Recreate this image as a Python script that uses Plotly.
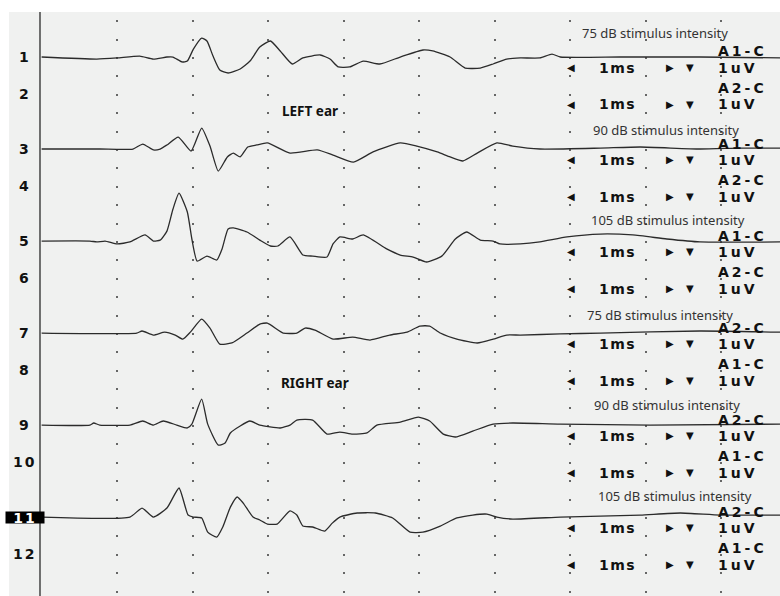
import plotly.graph_objects as go

# ---------------- data (time in ms, amplitude in uV) ----------------
t1 = [0.00, 0.73, 1.00, 1.30, 1.48, 1.66, 1.74, 1.86, 1.93, 2.01, 2.12, 2.19, 2.27, 2.36, 2.47, 2.63, 2.76, 2.89, 3.03, 3.16, 3.32, 3.46, 3.69, 3.82, 3.93, 4.08, 4.26, 4.48, 4.75, 5.05, 5.18, 5.41, 5.61, 5.81, 5.98, 6.16, 6.34, 6.60, 6.76, 6.87, 7.66, 8.72, 9.78]
a1 = [0.00, -0.11, -0.05, 0.05, -0.11, 0.00, 0.00, -0.27, -0.22, 0.43, 1.03, 0.87, 0.05, -0.71, -0.87, -0.65, -0.22, 0.54, 0.87, 0.33, -0.38, -0.05, 0.11, -0.11, -0.54, -0.54, -0.22, -0.38, 0.00, 0.38, 0.33, 0.00, -0.60, -0.60, -0.38, -0.11, -0.05, -0.05, 0.16, 0.00, 0.00, 0.00, -0.05]

t3 = [0.00, 0.77, 1.21, 1.34, 1.48, 1.57, 1.66, 1.81, 1.98, 2.12, 2.23, 2.34, 2.46, 2.54, 2.63, 2.73, 2.85, 2.99, 3.29, 3.65, 3.86, 4.13, 4.39, 4.75, 4.97, 5.24, 5.41, 5.58, 5.77, 6.03, 6.24, 6.60, 7.40, 7.93, 8.72, 9.25, 9.78]
a3 = [0.00, 0.00, 0.00, 0.27, -0.05, 0.00, 0.22, 0.65, -0.11, 1.14, 0.16, -1.20, -0.43, -0.22, -0.43, 0.11, 0.22, 0.33, -0.22, -0.05, -0.33, -0.71, -0.16, 0.33, 0.16, -0.16, -0.43, -0.65, -0.22, 0.33, 0.16, 0.00, 0.05, 0.11, 0.00, 0.05, 0.05]

t5 = [0.00, 0.64, 0.73, 0.84, 1.00, 1.17, 1.37, 1.48, 1.57, 1.66, 1.74, 1.82, 1.93, 1.99, 2.06, 2.19, 2.32, 2.39, 2.47, 2.54, 2.72, 2.89, 3.03, 3.13, 3.29, 3.46, 3.59, 3.78, 3.86, 3.95, 4.12, 4.26, 4.57, 4.75, 4.92, 5.10, 5.30, 5.48, 5.63, 5.81, 5.98, 6.07, 6.34, 6.60, 6.96, 7.40, 7.83, 8.28, 8.72, 9.78]
a5 = [0.00, 0.00, -0.05, 0.00, -0.16, -0.05, 0.33, 0.00, 0.05, 0.54, 1.74, 2.60, 1.58, 0.11, -1.09, -0.82, -1.03, -0.43, 0.65, 0.71, 0.49, 0.05, -0.27, -0.27, 0.22, -0.76, -0.82, -0.87, -0.16, 0.22, 0.11, 0.33, -0.43, -0.76, -0.87, -1.14, -0.82, 0.11, 0.49, 0.05, 0.00, -0.16, -0.16, -0.05, 0.22, 0.38, 0.33, 0.11, -0.05, -0.05]

t7 = [0.00, 1.26, 1.33, 1.48, 1.63, 1.77, 1.87, 1.97, 2.12, 2.23, 2.36, 2.52, 2.72, 2.89, 2.99, 3.20, 3.38, 3.49, 3.62, 3.86, 4.12, 4.35, 4.61, 4.84, 5.01, 5.14, 5.28, 5.50, 5.77, 5.98, 6.16, 6.34, 6.87, 7.40, 8.72, 9.78]
a7 = [0.00, 0.00, 0.11, -0.11, 0.05, -0.11, -0.33, 0.05, 0.76, 0.27, -0.60, -0.54, 0.00, 0.49, 0.54, 0.00, 0.00, 0.27, 0.16, -0.33, -0.22, -0.38, -0.11, 0.05, 0.38, 0.38, 0.00, -0.33, -0.54, -0.33, -0.11, -0.11, -0.05, 0.00, 0.11, 0.05]

t9 = [0.00, 0.64, 0.69, 0.77, 1.17, 1.34, 1.48, 1.61, 1.79, 1.93, 1.99, 2.12, 2.20, 2.34, 2.43, 2.50, 2.63, 2.76, 2.89, 3.16, 3.29, 3.38, 3.59, 3.78, 3.95, 4.12, 4.31, 4.44, 4.75, 4.99, 5.14, 5.32, 5.48, 5.71, 5.98, 6.24, 6.87, 8.06, 9.78]
a9 = [0.00, 0.00, 0.11, 0.00, 0.00, 0.22, 0.00, 0.22, 0.00, -0.16, 0.05, 1.41, 0.05, -1.09, -0.98, -0.43, -0.05, 0.22, 0.00, -0.16, 0.00, 0.27, 0.27, -0.49, -0.38, -0.49, -0.43, 0.00, 0.16, 0.43, 0.22, -0.49, -0.65, -0.33, 0.05, 0.11, 0.05, 0.00, 0.05]

t11 = [0.00, 1.17, 1.33, 1.48, 1.66, 1.82, 1.94, 2.01, 2.12, 2.20, 2.32, 2.40, 2.50, 2.59, 2.67, 2.80, 2.89, 2.99, 3.12, 3.29, 3.38, 3.46, 3.59, 3.75, 3.85, 3.95, 4.18, 4.42, 4.65, 4.88, 5.05, 5.28, 5.50, 5.71, 5.90, 6.03, 6.24, 6.87, 7.40, 7.93, 8.46, 8.99, 9.78]
a11 = [0.00, 0.00, 0.49, 0.00, 0.49, 1.58, 0.11, 0.00, -0.05, -0.82, -1.09, -0.54, 0.54, 1.09, 0.76, 0.00, -0.16, -0.38, -0.38, 0.33, 0.11, -0.49, -0.54, -0.76, -0.33, 0.00, 0.22, 0.22, -0.05, -0.82, -0.82, -0.49, -0.05, 0.11, 0.16, 0.00, -0.11, 0.00, 0.05, 0.11, 0.22, 0.11, 0.11]

channel_numbers = ["1", "2", "3", "4", "5", "6", "7", "8", "9", "10", "11", "12"]
electrodes = ["A1-C", "A2-C", "A1-C", "A2-C", "A1-C", "A2-C",
              "A2-C", "A1-C", "A2-C", "A1-C", "A2-C", "A1-C"]
stimulus_labels = ["75 dB stimulus intensity", "90 dB stimulus intensity", "105 dB stimulus intensity",
                   "75 dB stimulus intensity", "90 dB stimulus intensity", "105 dB stimulus intensity"]
ear_labels = ["LEFT ear", "RIGHT ear"]
time_scale = "1ms"
amp_scale = "1uV"
grid_ms = [1, 2, 3, 4, 5, 6, 7, 8, 9]

waves = [(t1, a1), (t3, a3), (t5, a5), (t7, a7), (t9, a9), (t11, a11)]

# ---------------- layout constants ----------------
ROW_Y = [0, -2, -5, -7, -10, -12, -15, -17, -20, -22, -25, -27]   # channel baselines (divisions)
TRACE_ROWS = [0, 2, 4, 6, 8, 10]
STIM_X = [8.12, 8.27, 8.30, 8.19, 8.28, 8.39]
STIM_DY = [1.3, 1.05, 1.15, 1.0, 1.1, 1.15]
EAR_POS = [(3.55, -2.93), (3.62, -17.72)]
BG = "#f0f1f0"
INK = "#2b2b2b"

fig = go.Figure()
for k, (tt, aa) in enumerate(waves):
    base = ROW_Y[TRACE_ROWS[k]]
    fig.add_trace(go.Scatter(
        x=tt, y=[v + base for v in aa], mode="lines",
        line=dict(color=INK, width=1.3, shape="spline", smoothing=0.5),
        hoverinfo="skip", showlegend=False))

ann = []
bold = "DejaVu Sans"
for r, (num, el) in enumerate(zip(channel_numbers, electrodes)):
    yr = ROW_Y[r]
    hl = (num == "11")
    ann.append(dict(
        xref="paper", yref="y", x=0.0205, y=yr, xanchor="center", yanchor="middle",
        text='<span style="letter-spacing:2px">' + num + '</span>', showarrow=False,
        font=dict(family=bold, size=14, color="white" if hl else "#111", weight="bold"),
        bgcolor="black" if hl else None, width=38 if hl else None, height=11 if hl else None,
        borderpad=0))
    ann.append(dict(x=8.95, y=yr + 0.3, xanchor="left", yanchor="middle", showarrow=False,
                    text='<span style="letter-spacing:3px">' + el + '</span>', borderpad=0,
                    font=dict(family=bold, size=14, color="#111", weight="bold")))
    cy = yr - 0.58
    ann.append(dict(x=7.01, y=cy, xanchor="center", yanchor="middle", showarrow=False,
                    text="◀", font=dict(family=bold, size=10, color="#111")))
    ann.append(dict(x=7.36, y=cy, xanchor="left", yanchor="middle", showarrow=False,
                    text='<span style="letter-spacing:1.5px">' + time_scale + '</span>',
                    font=dict(family=bold, size=14, color="#111", weight="bold")))
    ann.append(dict(x=8.32, y=cy, xanchor="center", yanchor="middle", showarrow=False,
                    text="▶", font=dict(family=bold, size=10, color="#111")))
    ann.append(dict(x=8.59, y=cy, xanchor="center", yanchor="middle", showarrow=False,
                    text="▼", font=dict(family=bold, size=10, color="#111")))
    ann.append(dict(x=8.95, y=cy, xanchor="left", yanchor="middle", showarrow=False, borderpad=0,
                    text='<span style="letter-spacing:3px">' + amp_scale + '</span>',
                    font=dict(family=bold, size=14, color="#111", weight="bold")))

for k, lab in enumerate(stimulus_labels):
    ann.append(dict(x=STIM_X[k], y=ROW_Y[TRACE_ROWS[k]] + STIM_DY[k], xanchor="center", yanchor="middle",
                    showarrow=False, text=lab, font=dict(family="Noto Sans", size=13, color="#333")))

for (ex, ey), lab in zip(EAR_POS, ear_labels):
    ann.append(dict(x=ex, y=ey, xanchor="center", yanchor="middle", showarrow=False, text=lab,
                    font=dict(family="Noto Sans", size=13.5, color="#111", weight="bold")))

fig.update_layout(
    width=780, height=596,
    margin=dict(l=9, r=0, t=12, b=0, pad=0),
    paper_bgcolor="white", plot_bgcolor=BG,
    showlegend=False,
    annotations=ann,
    shapes=[dict(type="line", xref="paper", yref="paper", x0=0.0402, x1=0.0402, y0=0, y1=1,
                 line=dict(color="#444", width=1.5), layer="above")],
    xaxis=dict(range=[-0.432, 9.78], tickvals=grid_ms, showticklabels=False, ticks="",
               showgrid=True, gridcolor="#666", gridwidth=1.5, griddash="0px,8.2px,2px,8.2px",
               zeroline=False, showline=False, fixedrange=True),
    yaxis=dict(range=[-29.29, 2.446], showticklabels=False, ticks="", showgrid=False,
               zeroline=False, showline=False, fixedrange=True),
)

fig.write_html("out.html", config={"displayModeBar": False},
               post_script="document.body.style.margin='0';document.body.style.overflow='hidden';")
